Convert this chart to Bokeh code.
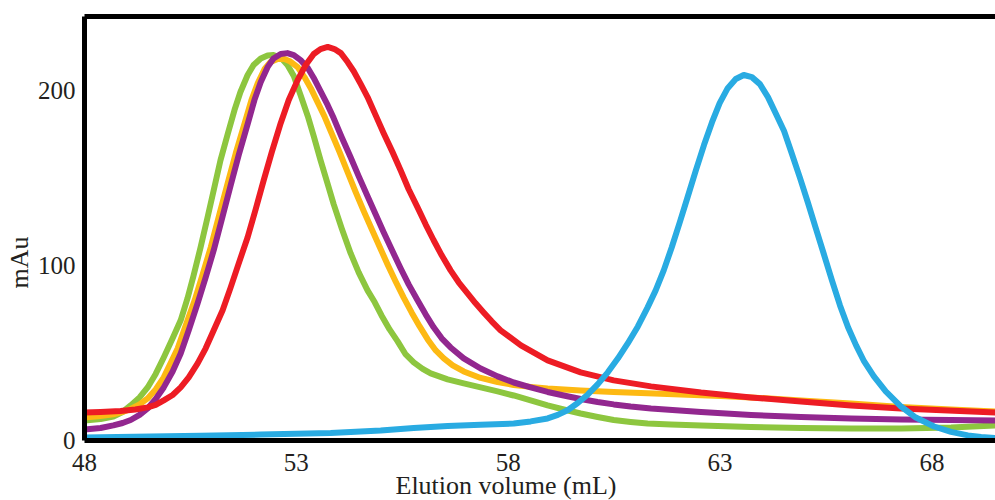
from bokeh.plotting import figure
from bokeh.models import Range1d, FixedTicker, LinearAxis, Title
from bokeh.embed import file_html
from bokeh.resources import INLINE

# ---- data (elution volume in mL, absorbance in mAu) ----
x_ticks = [48, 53, 58, 63, 68]
y_ticks = [0, 100, 200]

green_x = [48.00, 48.38, 48.68, 48.90, 49.09, 49.30, 49.49, 49.68, 49.87, 50.08, 50.27, 50.43, 50.57,
           50.74, 50.90, 51.05, 51.21, 51.38, 51.54, 51.68, 51.85, 51.99, 52.16, 52.32, 52.46, 52.63,
           52.79, 52.94, 53.10, 53.27, 53.41, 53.57, 53.74, 53.88, 54.07, 54.28, 54.47, 54.68, 54.85,
           55.01, 55.20, 55.39, 55.58, 55.77, 55.98, 56.17, 56.57, 56.95, 57.35, 57.75, 58.13, 58.53,
           58.93, 59.31, 59.71, 60.11, 60.49, 60.89, 61.29, 61.84, 62.55, 63.73, 64.91, 66.09, 67.27,
           68.45, 69.50]
green_y = [11.4, 12.3, 13.7, 16.3, 20.0, 24.6, 30.3, 38.0, 47.4, 58.3, 68.6, 81.1, 93.7,
           110.3, 126.9, 142.9, 160.0, 174.9, 188.6, 198.9, 208.6, 214.3, 218.0, 219.7, 220.0, 218.6,
           214.3, 208.0, 197.1, 185.1, 173.7, 160.0, 146.3, 134.9, 121.1, 106.9, 96.0, 85.7, 78.9,
           71.4, 63.4, 56.6, 49.1, 44.6, 40.9, 38.3, 34.9, 32.6, 30.3, 28.0, 25.7, 22.9,
           20.0, 17.7, 15.4, 13.4, 11.7, 10.6, 9.7, 9.1, 8.6, 7.7, 7.1, 6.9, 6.9,
           7.4, 8.6]

yellow_x = [48.00, 48.38, 48.68, 48.90, 49.09, 49.30, 49.49, 49.68, 49.87, 50.03, 50.20, 50.38, 50.60,
            50.79, 50.98, 51.19, 51.38, 51.57, 51.78, 51.94, 52.09, 52.25, 52.39, 52.56, 52.72, 52.86,
            53.03, 53.19, 53.34, 53.50, 53.67, 53.83, 54.02, 54.21, 54.40, 54.59, 54.78, 54.97, 55.15,
            55.34, 55.53, 55.72, 55.91, 56.10, 56.29, 56.48, 56.69, 56.95, 57.35, 57.75, 58.13, 58.53,
            58.93, 59.71, 60.49, 61.29, 62.07, 63.02, 63.73, 64.91, 66.09, 67.27, 68.45, 69.50]
yellow_y = [13.1, 14.0, 14.9, 16.3, 18.0, 20.6, 24.0, 29.1, 36.0, 44.0, 52.6, 65.1, 80.0,
            94.9, 110.3, 129.7, 146.9, 164.0, 181.1, 194.3, 204.0, 212.0, 216.0, 217.7, 217.7, 216.3,
            213.1, 207.4, 201.1, 193.1, 184.6, 175.4, 164.6, 153.1, 141.7, 130.9, 120.6, 110.3, 100.6,
            90.9, 81.7, 73.1, 65.1, 57.7, 51.4, 46.9, 42.9, 39.4, 35.7, 33.4, 31.7, 30.6,
            29.7, 28.6, 27.7, 26.9, 26.3, 25.4, 24.6, 22.9, 21.1, 19.1, 17.7, 16.6]

purple_x = [48.00, 48.38, 48.68, 48.90, 49.09, 49.30, 49.49, 49.68, 49.87, 50.08, 50.27, 50.46, 50.67,
            50.86, 51.05, 51.26, 51.45, 51.64, 51.85, 52.01, 52.16, 52.32, 52.46, 52.63, 52.79, 52.94,
            53.10, 53.27, 53.41, 53.57, 53.74, 53.88, 54.07, 54.28, 54.47, 54.68, 54.87, 55.06, 55.27,
            55.46, 55.65, 55.86, 56.05, 56.24, 56.43, 56.64, 56.95, 57.35, 57.75, 58.13, 58.53, 58.93,
            59.31, 59.71, 60.11, 60.49, 60.89, 61.37, 62.55, 63.73, 64.91, 66.09, 67.27, 68.45, 69.50]
purple_y = [6.3, 7.1, 8.6, 10.0, 11.7, 14.6, 18.3, 23.7, 30.3, 39.4, 49.7, 62.9, 78.3,
            93.1, 108.6, 128.0, 145.7, 162.9, 180.6, 194.3, 204.6, 213.1, 218.0, 220.6, 221.1, 220.0,
            217.1, 212.6, 206.9, 199.4, 191.4, 184.0, 173.1, 161.7, 150.9, 139.4, 129.1, 118.9, 108.0,
            98.3, 89.1, 80.0, 72.0, 64.6, 58.3, 53.1, 46.9, 41.1, 36.6, 33.1, 30.3, 27.7,
            25.7, 23.7, 22.0, 20.6, 19.4, 18.3, 16.3, 14.6, 13.4, 12.6, 12.0, 11.7, 11.4]

red_x = [48.00, 48.38, 48.85, 49.20, 49.49, 49.68, 49.87, 50.08, 50.27, 50.46, 50.67, 50.86, 51.05,
         51.26, 51.45, 51.64, 51.85, 52.04, 52.23, 52.42, 52.63, 52.82, 53.03, 53.22, 53.41, 53.57,
         53.74, 53.90, 54.05, 54.21, 54.35, 54.52, 54.68, 54.87, 55.06, 55.27, 55.46, 55.65, 55.86,
         56.05, 56.24, 56.43, 56.64, 56.83, 57.04, 57.23, 57.42, 57.61, 57.82, 58.30, 58.93, 59.71,
         60.49, 61.37, 62.55, 63.73, 64.91, 66.09, 67.27, 69.50]
red_y = [16.0, 16.3, 16.9, 17.7, 18.9, 20.3, 22.9, 26.0, 30.3, 36.0, 44.0, 52.6, 62.9,
         74.3, 87.4, 101.1, 116.0, 132.0, 148.6, 164.6, 181.1, 194.3, 205.7, 214.3, 220.6, 223.4,
         224.6, 223.4, 221.1, 216.0, 210.9, 203.4, 196.0, 185.7, 175.4, 164.6, 154.3, 143.4, 133.1,
         123.4, 114.3, 105.7, 97.1, 90.3, 84.0, 78.3, 73.1, 68.0, 62.9, 54.3, 45.7, 38.9,
         34.3, 30.9, 27.4, 24.6, 22.3, 20.0, 18.3, 16.0]

blue_x = [48.00, 49.56, 50.74, 52.16, 53.81, 54.99, 55.77, 56.57, 57.35, 58.13, 58.53, 58.93, 59.17,
          59.41, 59.64, 59.88, 60.11, 60.35, 60.59, 60.82, 61.06, 61.29, 61.48, 61.67, 61.86, 62.05,
          62.24, 62.43, 62.62, 62.81, 62.99, 63.18, 63.37, 63.56, 63.75, 63.94, 64.13, 64.32, 64.51,
          64.69, 64.88, 65.07, 65.26, 65.45, 65.64, 65.83, 66.02, 66.21, 66.40, 66.63, 66.91, 67.27,
          67.62, 68.05, 68.45, 68.85, 69.16, 69.50]
blue_y = [1.7, 2.3, 2.7, 3.4, 4.3, 5.7, 7.1, 8.3, 9.0, 9.7, 10.9, 12.6, 14.6,
          17.4, 21.4, 26.3, 32.0, 38.9, 46.9, 55.4, 65.1, 76.0, 85.7, 97.1, 110.3, 124.6,
          139.4, 154.3, 168.6, 181.7, 192.6, 201.1, 206.3, 208.6, 207.4, 203.4, 196.0, 186.3, 176.6,
          164.0, 150.3, 136.0, 121.1, 106.3, 91.4, 77.1, 64.6, 54.3, 45.1, 36.6, 28.0, 19.4,
          13.1, 8.0, 4.9, 2.9, 2.0, 1.4]

series = [
    (green_x, green_y, "#8dc63f"),
    (yellow_x, yellow_y, "#fdb913"),
    (purple_x, purple_y, "#92278f"),
    (red_x, red_y, "#ed1c24"),
    (blue_x, blue_y, "#29abe2"),
]

FONT = "Liberation Serif"
TEXT = "#231f20"

p = figure(width=995, height=500, x_range=Range1d(48, 69.5), y_range=Range1d(0, 242),
           output_backend="svg", toolbar_location=None,
           min_border_left=84, min_border_right=0, min_border_top=16, min_border_bottom=60)
p.outline_line_color = None
p.grid.visible = False
p.background_fill_color = "white"
p.border_fill_color = "white"

for ax, ticks in ((p.xaxis[0], x_ticks), (p.yaxis[0], y_ticks)):
    ax.ticker = FixedTicker(ticks=ticks)
    ax.axis_line_width = 5
    ax.axis_line_color = "black"
    ax.major_tick_line_color = None
    ax.minor_tick_line_color = None
    ax.major_tick_out = 0
    ax.major_tick_in = 0
    ax.major_label_text_font = FONT
    ax.major_label_text_font_size = "25px"
    ax.major_label_text_color = TEXT
p.xaxis[0].major_label_standoff = 13
p.yaxis[0].major_label_standoff = 9

top_axis = LinearAxis(ticker=FixedTicker(ticks=[]), axis_line_width=5, axis_line_color="black",
                      major_tick_line_color=None, minor_tick_line_color=None,
                      major_tick_out=0, major_tick_in=0, major_label_standoff=0,
                      major_label_text_font_size="0px")
p.add_layout(top_axis, "above")

for xs, ys, c in series:
    p.line(xs, ys, line_color=c, line_width=6, line_join="round", line_cap="round")

p.add_layout(Title(text="Elution volume (mL)", align="left", offset=311, standoff=-10,
                   text_font=FONT, text_font_size="26px", text_font_style="normal",
                   text_color=TEXT), "below")
p.add_layout(Title(text="mAu", align="left", offset=152, standoff=2,
                   text_font=FONT, text_font_size="26px", text_font_style="normal",
                   text_color=TEXT), "left")

open("out.html", "w").write(file_html(p, INLINE))
